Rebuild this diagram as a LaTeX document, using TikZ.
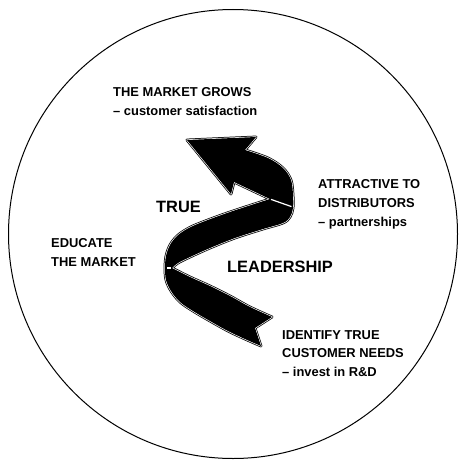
\documentclass[tikz,border=0pt]{standalone}
\usepackage{fontspec}
\setmainfont{Liberation Sans}
\begin{document}
\begin{tikzpicture}[x=1pt,y=-1pt,
  lbl/.style={anchor=base west, inner sep=0pt, font=\fontsize{12.9}{19}\selectfont\bfseries},
  biglbl/.style={anchor=base west, inner sep=0pt, font=\fontsize{16.4}{20}\selectfont\bfseries},
  ribbon/.style={fill=black, line join=round,
    preaction={draw=black, line width=2.8pt, line join=round},
    preaction={draw=white, line width=1.3pt, line join=round}},
  fold/.style={draw=white, line width=1.2pt, line cap=butt}]
\useasboundingbox (0,0) rectangle (458,460);

% outer ring
\node[draw, circle, minimum size=449pt, line width=1pt, inner sep=0pt] (ring) at (233,234) {};

% twisted ribbon arrow
\path[ribbon]
  (187,140) -- (256,137) -- (245,150)
  -- plot[smooth, tension=0.55] coordinates {(245,150) (268,158) (283,168) (291,180) (293,195) (293,208) (290,217) (283,223) (263,229) (235,238) (210,248) (190,257) (178,263) (172,268)}
  -- plot[smooth, tension=0.55] coordinates {(172,268) (190,277) (210,286) (230,296) (250,307) (272,317)}
  -- (255,328) -- (261,346)
  -- plot[smooth, tension=0.55] coordinates {(261,346) (245,339) (228,331) (210,321) (193,311) (180,302) (171,291) (166,280) (165,268) (166,256) (170,245) (177,236) (187,229) (200,223) (230,212) (270,199)}
  -- (234,182) -- (231,194) -- cycle;
% fold edges where the ribbon turns over
\draw[fold] (271,199.4) -- (291.5,206.6);
\draw[fold] (171,268) -- (167,268);

% labels
\node[lbl] (grows1) at (113,96) {THE MARKET GROWS};
\node[lbl] (grows2) at (113,115) {– customer satisfaction};
\node[lbl] (attr1) at (318,188) {ATTRACTIVE TO};
\node[lbl] (attr2) at (318,207) {DISTRIBUTORS};
\node[lbl] (attr3) at (318,226) {– partnerships};
\node[biglbl] (true) at (156,212) {TRUE};
\node[lbl] (edu1) at (51,247) {EDUCATE};
\node[lbl] (edu2) at (51,266) {THE MARKET};
\node[biglbl] (lead) at (227,272) {LEADERSHIP};
\node[lbl] (ident1) at (282,339) {IDENTIFY TRUE};
\node[lbl] (ident2) at (282,357) {CUSTOMER NEEDS};
\node[lbl] (ident3) at (282,376) {– invest in R\&D};
\end{tikzpicture}
\end{document}
